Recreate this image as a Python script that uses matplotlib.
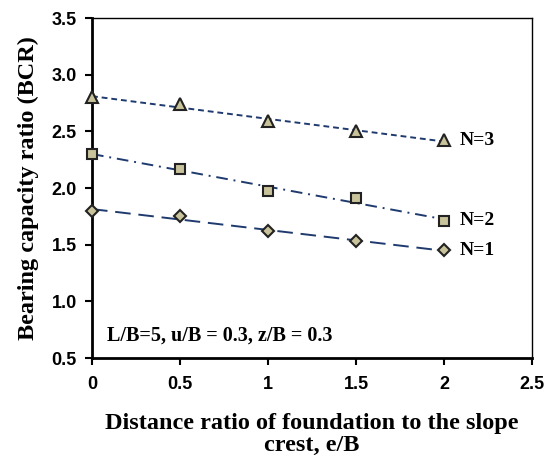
import matplotlib
matplotlib.use('Agg')
import numpy as np
import matplotlib.pyplot as plt

# data
x = [0, 0.5, 1, 1.5, 2]
n1 = [1.80, 1.75, 1.62, 1.53, 1.45]
n2 = [2.30, 2.17, 1.97, 1.91, 1.71]
n3 = [2.80, 2.74, 2.59, 2.50, 2.42]
labels = ["N=1", "N=2", "N=3"]

line_col = "#1f3a6e"
face_col = "#c9c39b"

fig = plt.figure(figsize=(5.51, 4.57), dpi=100)
ax = fig.add_axes([0.167, 0.2166, 0.7985, 0.744])

series = [(n1, "D", (0, (8, 4)), 6), (n2, "s", (0, (6, 3, 1, 3)), 7), (n3, "^", (0, (3, 2)), 8)]
xx = np.array([0, 2])
for (y, m, ls, ms), lab in zip(series, labels):
    p = np.polyfit(x, y, 1)
    ax.plot(xx, np.polyval(p, xx), color=line_col, ls=ls, lw=1.4, zorder=2)
    ax.plot(x, y, ls="none", marker=m, ms=ms, mfc=face_col, mec="#222222", mew=1.5,
            zorder=3, clip_on=False)
    ax.text(2.09, y[-1], lab, fontsize=14, fontweight="bold", family="Liberation Serif", va="center")

ax.set_xlim(0, 2.5)
ax.set_ylim(0.5, 3.5)
ax.set_xticks([0, 0.5, 1, 1.5, 2, 2.5])
ax.set_xticklabels(["0", "0.5", "1", "1.5", "2", "2.5"])
ax.set_yticks([0.5, 1.0, 1.5, 2.0, 2.5, 3.0, 3.5])
ax.set_yticklabels(["0.5", "1.0", "1.5", "2.0", "2.5", "3.0", "3.5"])
ax.tick_params(direction="out", length=5, width=1.5, labelsize=13)
ax.tick_params(axis="x", pad=8)
ax.tick_params(axis="y", pad=6)
for t in ax.get_xticklabels() + ax.get_yticklabels():
    t.set_fontweight("bold")
    t.set_family("Liberation Sans")
ax.spines["left"].set_linewidth(2)
ax.spines["bottom"].set_linewidth(2)
ax.spines["top"].set_linewidth(1)
ax.spines["right"].set_linewidth(1)

ax.text(0.085, 0.70, "L/B=5, u/B = 0.3, z/B = 0.3", fontsize=14.5, fontweight="bold",
        family="Liberation Serif", va="center")

ax.set_xlabel("Distance ratio of foundation to the slope\ncrest, e/B", fontsize=17.5,
              fontweight="bold", family="Liberation Serif", labelpad=14, linespacing=1.1)
ax.set_ylabel("Bearing capacity ratio (BCR)", fontsize=17.5, fontweight="bold",
              family="Liberation Serif", labelpad=9)

fig.savefig("out.png", dpi=100)
